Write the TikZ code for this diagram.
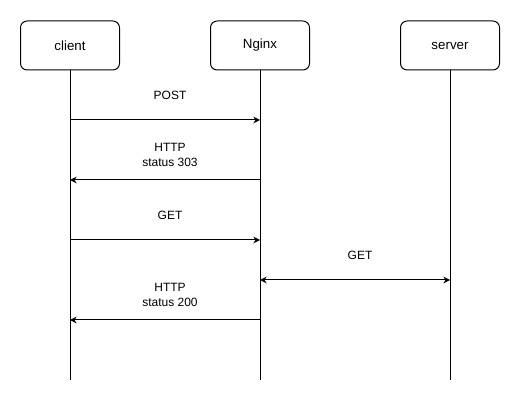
\documentclass[tikz,border=0pt]{standalone}
\usepackage{fontspec}
\setmainfont{Liberation Sans}
\usetikzlibrary{arrows.meta}
\tikzset{
  party/.style={draw, rounded corners=5pt, minimum width=99*0.75pt, minimum height=49*0.75pt, inner sep=0pt},
  msg/.style={-{Stealth[length=5pt,width=5pt]}},
  msgboth/.style={{Stealth[length=5pt,width=5pt]}-{Stealth[length=5pt,width=5pt]}},
  lbl/.style={align=center, inner sep=0pt, font=\fontsize{9}{11.25}\selectfont}
}
\begin{document}
\begin{tikzpicture}[x=0.75pt, y=-0.75pt, line width=0.75pt]
\useasboundingbox (0,0) rectangle (521,402);
% Participants
\node[party] (client) at (70,45.5) {client};
\node[party] (nginx) at (260,45.5) {Nginx};
\node[party] (server) at (450,45.5) {server};
% Points on the lifelines
\foreach \y/\i in {120/1, 180/2, 240/3, 280/4, 320/5, 380/e} {
  \coordinate (c\i) at (70,\y);
  \coordinate (n\i) at (260,\y);
  \coordinate (s\i) at (450,\y);
}
% Lifelines
\draw (client.south) -- (ce);
\draw (nginx.south) -- (ne);
\draw (server.south) -- (se);
% Messages
\draw[msg] (c1) -- (n1);
\node[lbl] (post) at (170,95) {POST};
\draw[msg] (n2) -- (c2);
\node[lbl] (resp303) at (170,155) {HTTP\\status 303};
\draw[msg] (c3) -- (n3);
\node[lbl] (get1) at (170,215) {GET};
\draw[msgboth] (n4) -- (s4);
\node[lbl] (get2) at (360,255) {GET};
\draw[msg] (n5) -- (c5);
\node[lbl] (resp200) at (170,295) {HTTP\\status 200};
\end{tikzpicture}
\end{document}
